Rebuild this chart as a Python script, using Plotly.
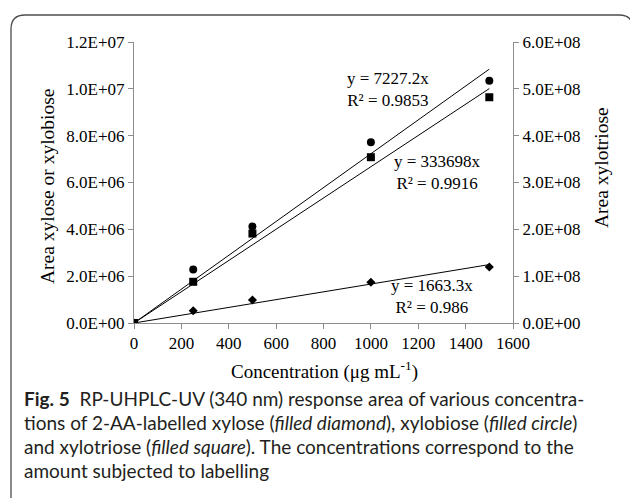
import plotly.graph_objects as go

conc = [0, 250, 500, 1000, 1500]
xylose = [0, 0.52e6, 0.98e6, 1.74e6, 2.39e6]
xylobiose = [0, 2.29e6, 4.12e6, 7.72e6, 1.035e7]
xylotriose = [0, 0.88e8, 1.91e8, 3.54e8, 4.82e8]

slope_xylose = 1663.3
slope_xylobiose = 7227.2
slope_xylotriose = 333698
fit_x = [0, 1500]

left_ticks = [0, 2e6, 4e6, 6e6, 8e6, 1e7, 1.2e7]
left_labels = ["0.0E+00", "2.0E+06", "4.0E+06", "6.0E+06", "8.0E+06", "1.0E+07", "1.2E+07"]
right_ticks = [0, 1e8, 2e8, 3e8, 4e8, 5e8, 6e8]
right_labels = ["0.0E+00", "1.0E+08", "2.0E+08", "3.0E+08", "4.0E+08", "5.0E+08", "6.0E+08"]

L, R, T, B = 134, 117, 42, 175
W, H = 630, 498
PW, PH = W - L - R, H - T - B

def px(x):
    return (x - L) / PW

def py(y):
    return (H - B - y) / PH

serif = "Liberation Serif"
fig = go.Figure()

fig.add_trace(go.Scatter(x=fit_x, y=[slope_xylobiose * v for v in fit_x], mode="lines",
                         line=dict(color="black", width=1), yaxis="y", showlegend=False))
fig.add_trace(go.Scatter(x=fit_x, y=[slope_xylotriose * v for v in fit_x], mode="lines",
                         line=dict(color="black", width=1), yaxis="y2", showlegend=False))
fig.add_trace(go.Scatter(x=fit_x, y=[slope_xylose * v for v in fit_x], mode="lines",
                         line=dict(color="black", width=1), yaxis="y", showlegend=False))

fig.add_trace(go.Scatter(x=conc, y=xylose, mode="markers", yaxis="y",
                         marker=dict(symbol="diamond", size=7, color="black"), showlegend=False))
fig.add_trace(go.Scatter(x=conc, y=xylobiose, mode="markers", yaxis="y",
                         marker=dict(symbol="circle", size=8, color="black"), showlegend=False))
fig.add_trace(go.Scatter(x=conc, y=xylotriose, mode="markers", yaxis="y2",
                         marker=dict(symbol="square", size=8, color="black"), showlegend=False))

axis_common = dict(showgrid=False, zeroline=False, showline=True, linecolor="#8c8c8c", linewidth=1,
                   ticks="outside", ticklen=5, tickcolor="#8c8c8c",
                   tickfont=dict(family=serif, size=17, color="black"))

fig.update_layout(
    width=W, height=H,
    margin=dict(l=L, r=R, t=T, b=B),
    paper_bgcolor="white", plot_bgcolor="white",
    xaxis=dict(range=[0, 1600], tickvals=[0, 200, 400, 600, 800, 1000, 1200, 1400, 1600],
               **axis_common),
    yaxis=dict(range=[0, 1.2e7], tickvals=left_ticks, ticktext=left_labels, **axis_common),
    yaxis2=dict(range=[0, 6e8], tickvals=right_ticks, ticktext=right_labels, overlaying="y", side="right",
                **axis_common),
    font=dict(family=serif, color="black"),
)

# axis titles placed at measured positions
fig.add_annotation(text="Concentration (μg mL<sup>-1</sup>)", xref="paper", yref="paper",
                   x=px(324), y=py(370), showarrow=False, xanchor="center", yanchor="middle",
                   font=dict(family=serif, size=19, color="black"))
fig.add_annotation(text="Area xylose or xylobiose", xref="paper", yref="paper",
                   x=px(47), y=py(186), showarrow=False, textangle=-90, xanchor="center", yanchor="middle",
                   font=dict(family=serif, size=19.5, color="black"))
fig.add_annotation(text="Area xylotriose", xref="paper", yref="paper",
                   x=px(601), y=py(168), showarrow=False, textangle=-90, xanchor="center", yanchor="middle",
                   font=dict(family=serif, size=19.5, color="black"))

eqs = [
    ("y = 7227.2x<br>R² = 0.9853", 388, 89),
    ("y = 333698x<br>R² = 0.9916", 437, 172),
    ("y = 1663.3x<br>R² = 0.986", 432, 296),
]
for text, x, y in eqs:
    fig.add_annotation(text=text, xref="paper", yref="paper", x=px(x), y=py(y), showarrow=False,
                       font=dict(family=serif, size=17, color="black"), align="center",
                       xanchor="center", yanchor="middle")

sans = "Lato"
caption = [
    "<b>Fig. 5</b>  RP-UHPLC-UV (340 nm) response area of various concentra-",
    "tions of 2-AA-labelled xylose (<i>filled diamond</i>), xylobiose (<i>filled circle</i>)",
    "and xylotriose (<i>filled square</i>). The concentrations correspond to the",
    "amount subjected to labelling",
]
for i, line in enumerate(caption):
    fig.add_annotation(text=line, xref="paper", yref="paper", x=px(22), y=py(398 + 24 * i),
                       showarrow=False, xanchor="left", yanchor="middle",
                       font=dict(family=sans, size=19, color="#231f20"))

# rounded frame
x0, x1, y0, y1, r = px(11), px(633), py(15), py(505), 14
rx, ry = r / PW, r / PH
path = (f"M {x0},{y1} L {x0},{y0 - ry} Q {x0},{y0} {x0 + rx},{y0} "
        f"L {x1 - rx},{y0} Q {x1},{y0} {x1},{y0 - ry} L {x1},{y1}")
fig.add_shape(type="path", path=path, xref="paper", yref="paper",
              line=dict(color="#4d4d4d", width=1.3), layer="above")

fig.write_html("out.html")
